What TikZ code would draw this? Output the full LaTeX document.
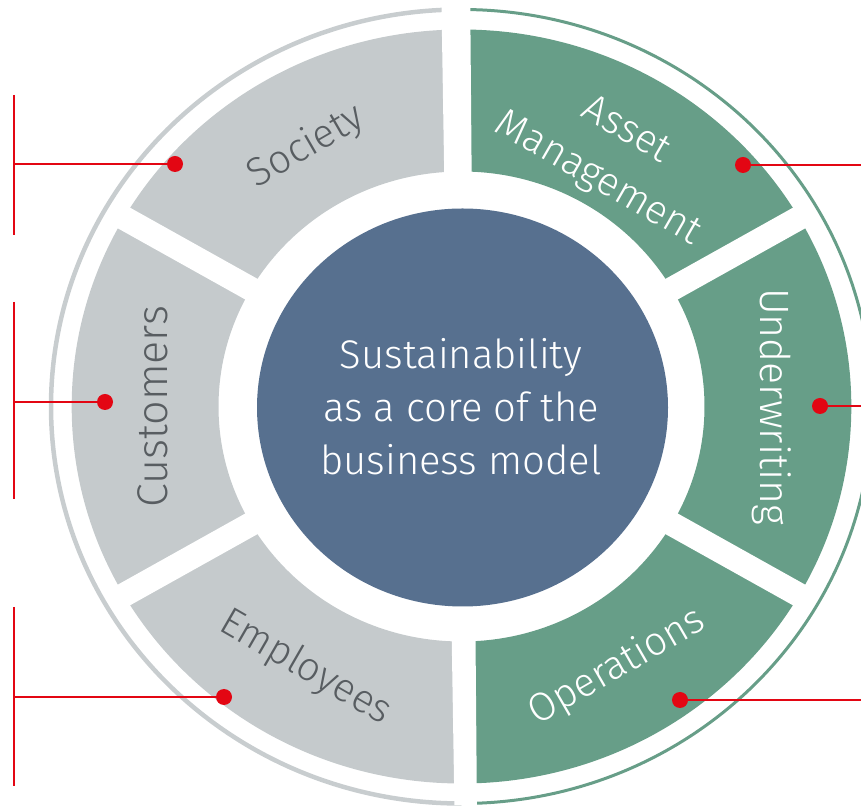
\documentclass[tikz,border=0pt]{standalone}
\usepackage{fontspec}
\setmainfont{Fira Sans Light}
\definecolor{segGray}{HTML}{C5CACC}
\definecolor{arcGray}{HTML}{C8CDCF}
\definecolor{segGreen}{HTML}{679E88}
\definecolor{coreBlue}{HTML}{57708F}
\definecolor{labGray}{HTML}{585D61}
\definecolor{mark}{HTML}{E30613}
\begin{document}
\begin{tikzpicture}[x=1pt,y=1pt,
  grylab/.style={text=labGray, font=\fontsize{40}{56}\selectfont, inner sep=0pt, align=center},
  grnlab/.style={text=white, font=\fontsize{40}{56}\selectfont, inner sep=0pt, align=center},
  reddot/.style={circle, fill=mark, minimum size=16pt, inner sep=0pt},
  redline/.style={draw=mark, line width=1.6pt},
  gapband/.style={draw=white, line width=24pt}]
\useasboundingbox (0,0) rectangle (861,805);
\begin{scope}[shift={(461.5,398.5)}, xscale=1.034]
  \fill[segGray] (90:377) arc[start angle=90, end angle=270, radius=377]
     -- (270:235) arc[start angle=270, end angle=90, radius=235] -- cycle;
  \fill[segGreen] (-90:377) arc[start angle=-90, end angle=90, radius=377]
     -- (90:235) arc[start angle=90, end angle=-90, radius=235] -- cycle;
  \draw[arcGray, line width=4.5pt] (90:397) arc[start angle=90, end angle=270, radius=397];
  \draw[segGreen, line width=3pt] (-90:397) arc[start angle=-90, end angle=90, radius=397];
  \foreach \a in {30,150,210,330} \draw[gapband] (\a:222) -- (\a:388);
\end{scope}
\fill[white] (441.4,805) -- (470.2,805) -- (476.9,0) -- (454.4,0) -- cycle;
\fill[coreBlue] (462.5,397.5) ellipse[x radius=205.5, y radius=199];
\node[text=white, align=center, font=\fontsize{40}{53}\selectfont, inner sep=0pt] (core) at (461,398.5)
  {Sustainability\\as a core of the\\business model};
\begin{scope}[shift={(461.5,398.5)}, xscale=1.034]
  \node[grylab, rotate=30] (society) at (120:300) {Society};
  \node[grylab, rotate=90, font=\fontsize{43}{56}\selectfont] (customers) at (180:299) {Customers};
  \node[grylab, rotate=-30] (employees) at (240:302) {Employees};
  \node[grnlab, rotate=-30] (asset) at (60:290) {Asset\\Management};
  \node[grnlab, rotate=-90, font=\fontsize{41}{56}\selectfont] (underwriting) at (0:300) {Underwriting};
  \node[grnlab, rotate=30] (operations) at (300:301) {Operations};
\end{scope}
% red callouts
\node[reddot] (dSoc) at (175,641) {};
\node[reddot] (dCus) at (105,403) {};
\node[reddot] (dEmp) at (224,108) {};
\node[reddot] (dAss) at (743,640) {};
\node[reddot] (dUnd) at (820,399) {};
\node[reddot] (dOpe) at (680,105) {};
\coordinate (bSocT) at (14,710); \coordinate (bSocB) at (14,570); \coordinate (bSocM) at (14,641);
\coordinate (bCusT) at (14,503); \coordinate (bCusB) at (14,306); \coordinate (bCusM) at (14,403);
\coordinate (bEmpT) at (14,198); \coordinate (bEmpB) at (14,19);  \coordinate (bEmpM) at (14,108);
\coordinate (eAss) at (861,640); \coordinate (eUnd) at (861,399); \coordinate (eOpe) at (861,105);
\draw[redline] (bSocT) -- (bSocB); \draw[redline] (bSocM) -- (dSoc);
\draw[redline] (bCusT) -- (bCusB); \draw[redline] (bCusM) -- (dCus);
\draw[redline] (bEmpT) -- (bEmpB); \draw[redline] (bEmpM) -- (dEmp);
\draw[redline] (dAss) -- (eAss);
\draw[redline] (dUnd) -- (eUnd);
\draw[redline] (dOpe) -- (eOpe);
\end{tikzpicture}
\end{document}
